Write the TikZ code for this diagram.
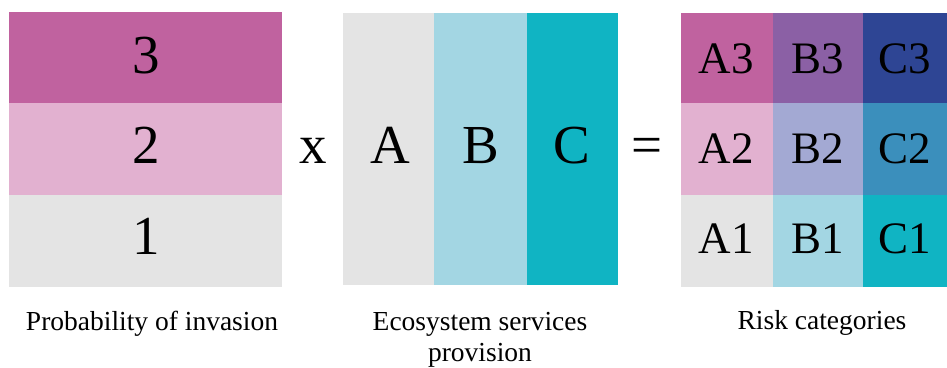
\documentclass[tikz,border=0pt]{standalone}
\usepackage{fontspec}
\setmainfont{Liberation Serif}
\definecolor{pinkD}{HTML}{C0629F}
\definecolor{pinkL}{HTML}{E2B1D0}
\definecolor{greyL}{HTML}{E4E4E4}
\definecolor{cyanL}{HTML}{A3D6E3}
\definecolor{cyanD}{HTML}{10B4C3}
\definecolor{purpM}{HTML}{8B60A5}
\definecolor{navyD}{HTML}{2E4594}
\definecolor{lavL}{HTML}{A3A9D3}
\definecolor{steelM}{HTML}{3B8FBC}
\begin{document}
\begin{tikzpicture}[x=1pt,y=-1pt,
  big/.style={font=\fontsize{55}{60}\selectfont, anchor=base, inner sep=0pt},
  mid/.style={font=\fontsize{45}{50}\selectfont, anchor=base, inner sep=0pt},
  lab/.style={font=\fontsize{27.5}{32}\selectfont, anchor=base, inner sep=0pt, align=center}]
\useasboundingbox (0,0) rectangle (947,367);
% left block
\fill[pinkD] (9,12) rectangle (282,103);
\fill[pinkL] (9,103) rectangle (282,195);
\fill[greyL] (9,195) rectangle (282,287);
\node[big] (p3) at (146,73) {3};
\node[big] (p2) at (146,163) {2};
\node[big] (p1) at (146,254) {1};
% operator
\node[big] (times) at (313,163) {x};
% middle block
\fill[greyL] (343,13) rectangle (434,285);
\fill[cyanL] (434,13) rectangle (527,285);
\fill[cyanD] (527,13) rectangle (618,285);
\node[big] (eA) at (390,163) {A};
\node[big] (eB) at (481,163) {B};
\node[big] (eC) at (572,163) {C};
\node[big] (eq) at (647,163) {=};
% right block
\fill[pinkD] (681,13) rectangle (773,103);
\fill[purpM] (773,13) rectangle (863,103);
\fill[navyD] (863,13) rectangle (947,103);
\fill[pinkL] (681,103) rectangle (773,195);
\fill[lavL] (773,103) rectangle (863,195);
\fill[steelM] (863,103) rectangle (947,195);
\fill[greyL] (681,195) rectangle (773,287);
\fill[cyanL] (773,195) rectangle (863,287);
\fill[cyanD] (863,195) rectangle (947,287);
\node[mid] (A3) at (726,73) {A3};
\node[mid] (B3) at (818,73) {B3};
\node[mid] (C3) at (905,73) {C3};
\node[mid] (A2) at (726,163) {A2};
\node[mid] (B2) at (818,163) {B2};
\node[mid] (C2) at (905,163) {C2};
\node[mid] (A1) at (726,253) {A1};
\node[mid] (B1) at (818,253) {B1};
\node[mid] (C1) at (905,253) {C1};
% labels
\node[lab] (l1) at (152,330) {Probability of invasion};
\node[lab] (l2) at (480,330) {Ecosystem services};
\node[lab] (l2b) at (480,361) {provision};
\node[lab] (l3) at (822,329) {Risk categories};
\end{tikzpicture}
\end{document}
